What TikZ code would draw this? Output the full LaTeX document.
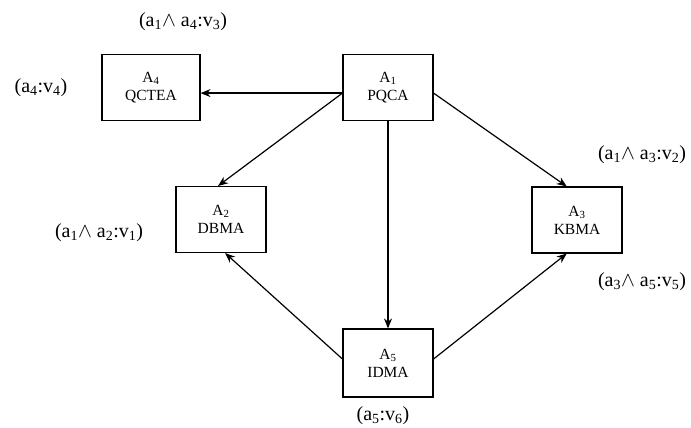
\documentclass[tikz,border=0pt]{standalone}
\usepackage{fontspec}
\setmainfont{Liberation Serif}
\usetikzlibrary{arrows.meta}
\tikzset{
  agent/.style={draw, line width=1.1pt, minimum width=90pt, minimum height=66pt,
    inner sep=0pt, align=center, font=\fontsize{15.5}{18}\selectfont},
  tag/.style={inner sep=0pt, font=\fontsize{20}{22}\selectfont},
  link/.style={line width=1.2pt, -{Stealth[length=10pt,width=8pt]}}
}
\newcommand{\andop}{\ensuremath{\wedge}}
\begin{document}
\begin{tikzpicture}[x=1pt,y=-1pt]
\useasboundingbox (0,0) rectangle (691,428);
% agents
\node[agent, minimum width=98pt] (A4) at (151,87.5) {A\textsubscript{4}\\QCTEA};
\node[agent] (A1) at (388,87.5) {A\textsubscript{1}\\PQCA};
\node[agent] (A2) at (221,219.5) {A\textsubscript{2}\\DBMA};
\node[agent] (A3) at (577,220) {A\textsubscript{3}\\KBMA};
\node[agent, minimum height=68pt] (A5) at (388,363) {A\textsubscript{5}\\IDMA};
% labels
\node[tag] (l3) at (183,22) {(a\textsubscript{1}\andop{} a\textsubscript{4}:v\textsubscript{3})};
\node[tag] (l4) at (41,88) {(a\textsubscript{4}:v\textsubscript{4})};
\node[tag] (l1) at (99,233) {(a\textsubscript{1}\andop{} a\textsubscript{2}:v\textsubscript{1})};
\node[tag] (l2) at (642,155) {(a\textsubscript{1}\andop{} a\textsubscript{3}:v\textsubscript{2})};
\node[tag] (l5) at (642,282) {(a\textsubscript{3}\andop{} a\textsubscript{5}:v\textsubscript{5})};
\node[tag] (l6) at (383,416) {(a\textsubscript{5}:v\textsubscript{6})};
% connectors
\draw[link] (A1.187) -- (A1.187 -| A4.east);
\draw[link] (A1.187) -- (A2.95);
\draw[link] (A1.353) -- (A3.107);
\draw[link] (A1.south) -- (A5.north);
\draw[link] (A5.175) -- (A2.277);
\draw[link] (A5.5) -- (A3.253);
\end{tikzpicture}
\end{document}
